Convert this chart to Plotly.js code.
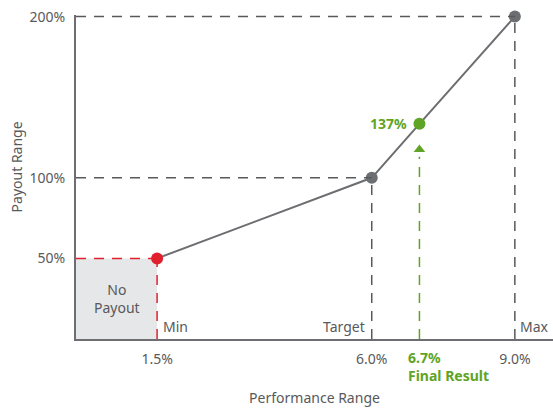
<!DOCTYPE html>
<html><head><meta charset="utf-8">
<script src="https://cdn.plot.ly/plotly-3.0.1.min.js"></script>
<style>html,body{margin:0;padding:0;background:#fff;}#c{width:553px;height:413px;}</style>
</head><body><div id="c"></div>
<script>
// Performance (%) and payout (%) curve points as drawn
const perf = [1.5, 6.0, 7.0, 9.0];
const payout = [50, 100, 133.5, 200];
const pointLabels = ["Min", "Target", "Final Result", "Max"];
const tickVals = [1.5, 6.0, 9.0];
const tickText = ["1.5%", "6.0%", "9.0%"];
const yTickVals = [50, 100, 200];
const yTickText = ["50%", "100%", "200%"];
const finalPerfLabel = "6.7%";
const finalPayoutLabel = "137%";

const grey = "#6d6e71", red = "#e0202e", green = "#5fa424", txt = "#58595b";
const xmin = -0.2, xmax = 9.8;
const font = "Noto Sans, Open Sans, sans-serif";
const fs = 14;

const dash = "10px,8px";
const shapes = [
  {type:"rect", x0:xmin, x1:perf[0], y0:0, y1:payout[0], fillcolor:"#e6e7e8", line:{width:0}, layer:"below"},
  {type:"line", x0:xmin, x1:perf[0], y0:payout[0], y1:payout[0], line:{color:red, width:1.5, dash:dash}},
  {type:"line", x0:perf[0], x1:perf[0], y0:0, y1:payout[0], line:{color:red, width:1.5, dash:dash}},
  {type:"line", x0:xmin, x1:perf[1], y0:payout[1], y1:payout[1], line:{color:txt, width:1.5, dash:dash}},
  {type:"line", x0:perf[1], x1:perf[1], y0:0, y1:payout[1], line:{color:txt, width:1.5, dash:dash}},
  {type:"line", x0:xmin, x1:perf[3], y0:payout[3], y1:payout[3], line:{color:txt, width:1.5, dash:dash}},
  {type:"line", x0:perf[3], x1:perf[3], y0:0, y1:payout[3], line:{color:txt, width:1.5, dash:dash}},
  {type:"line", x0:perf[2], x1:perf[2], y0:0, y1:113, line:{color:green, width:1.5, dash:dash}},
];

const traces = [
  {x:[perf[2]], y:[117.5], mode:"markers", marker:{symbol:"triangle-up", size:10, color:green}, hoverinfo:"skip", cliponaxis:false},
  {x:perf, y:payout, mode:"lines+markers", line:{color:grey, width:2},
   marker:{size:12, color:[red, grey, green, grey]}, cliponaxis:false, hoverinfo:"skip"}
];

const f = (c, s) => ({family:font, size:s || fs, color:c || txt});
const annotations = [
  {x:(xmin+perf[0])/2, y:payout[0]/2, xref:"x", yref:"y", text:"No<br>Payout", showarrow:false, font:f(), align:"center"},
  {x:perf[0], y:0, xref:"x", yref:"y", text:pointLabels[0], showarrow:false, xanchor:"left", yanchor:"bottom",
   xshift:4, yshift:1, font:f()},
  {x:perf[1], y:0, xref:"x", yref:"y", text:pointLabels[1], showarrow:false, xanchor:"right", yanchor:"bottom",
   xshift:-5, yshift:1, font:f()},
  {x:perf[3], y:0, xref:"x", yref:"y", text:pointLabels[3], showarrow:false, xanchor:"left", yanchor:"bottom",
   xshift:3, yshift:1, font:f()},
  {x:perf[2], y:payout[2], xref:"x", yref:"y", text:"<b>"+finalPayoutLabel+"</b>", showarrow:false, xanchor:"right",
   xshift:-10, font:f(green)},
  {x:perf[2], y:0, xref:"x", yref:"y", text:"<b>"+finalPerfLabel+"</b><br><b>"+pointLabels[2]+"</b>", showarrow:false,
   xanchor:"left", yanchor:"top", align:"left", xshift:-13, yshift:-7, font:f(green)},
  {x:-0.125, y:0.5, xref:"paper", yref:"paper", xanchor:"center", yanchor:"middle", text:"Payout Range", textangle:-90,
   showarrow:false, yshift:10, font:f()}
];

Plotly.newPlot("c", traces, {
  width:553, height:413, margin:{l:76, r:0, t:15, b:74},
  paper_bgcolor:"#fff", plot_bgcolor:"#fff", showlegend:false,
  xaxis:{range:[xmin, xmax], showgrid:false, zeroline:false, showline:true, linecolor:grey, linewidth:2,
    tickvals:tickVals, ticktext:tickText, ticks:"", ticklabelstandoff:6, tickfont:f(),
    title:{text:"Performance Range", font:f(), standoff:26}},
  yaxis:{range:[0, 201], showgrid:false, zeroline:false, showline:true, linecolor:grey, linewidth:2,
    tickvals:yTickVals, ticktext:yTickText, ticks:"", ticklabelstandoff:6, tickfont:f()},
  shapes:shapes, annotations:annotations
}, {staticPlot:true});
</script></body></html>
